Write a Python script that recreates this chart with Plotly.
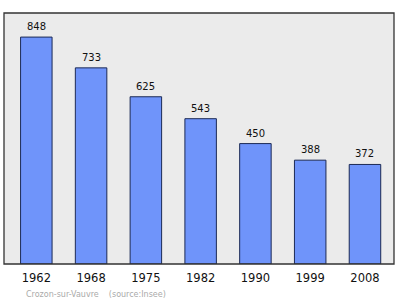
import plotly.graph_objects as go

years = ["1962", "1968", "1975", "1982", "1990", "1999", "2008"]
population = [848, 733, 625, 543, 450, 388, 372]
labels = [str(v) for v in population]

fig = go.Figure()
fig.add_trace(go.Bar(
    x=list(range(len(years))), y=population,
    width=0.575,
    marker=dict(color="#6f94fa", line=dict(color="#1c2a55", width=1)),
    hoverinfo="skip",
))
for i, (v, t) in enumerate(zip(population, labels)):
    fig.add_annotation(x=i, y=v, text=t, showarrow=False, yanchor="bottom",
                       yshift=3, font=dict(family="DejaVu Sans", size=10, color="#111"))

fig.add_annotation(xref="paper", yref="paper", x=0.05, y=-0.095, xanchor="left", yanchor="top",
                   text="Crozon-sur-Vauvre&nbsp;&nbsp;&nbsp;&nbsp;(source:Insee)", showarrow=False,
                   font=dict(family="DejaVu Sans", size=8, color="#aaaaaa"))

fig.add_shape(type="rect", xref="paper", yref="paper", x0=0, y0=0, x1=1, y1=1,
              line=dict(color="#333333", width=1.3), layer="above")

fig.update_layout(
    width=400, height=299,
    margin=dict(l=4, r=6, t=13, b=35),
    paper_bgcolor="white", plot_bgcolor="#ebebeb",
    showlegend=False,
    xaxis=dict(range=[-0.59, 6.53], tickmode="array", tickvals=list(range(len(years))),
               ticktext=years, showgrid=False, zeroline=False, ticks="",
               ticklabelstandoff=5,
               tickfont=dict(family="DejaVu Sans", size=11.5, color="#111")),
    yaxis=dict(range=[0, 938], showgrid=False, zeroline=False, showticklabels=False, ticks=""),
)
fig.write_html("out.html")
